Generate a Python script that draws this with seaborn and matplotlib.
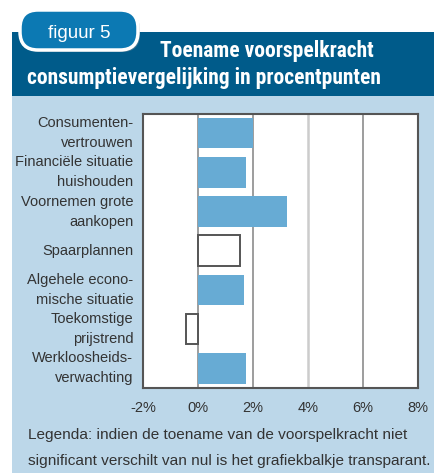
import matplotlib.pyplot as plt
import seaborn as sns
import pandas as pd
from matplotlib.patches import FancyBboxPatch, Rectangle

# data
labels = ['Consumenten-\nvertrouwen', 'Financiële situatie\nhuishouden',
          'Voornemen grote\naankopen', 'Spaarplannen',
          'Algehele econo-\nmische situatie', 'Toekomstige\nprijstrend',
          'Werkloosheids-\nverwachting']
values = [2.0, 1.73, 3.23, 1.53, 1.69, -0.45, 1.73]
significant = [True, True, True, False, True, False, True]
xticks = [-2, 0, 2, 4, 6, 8]

BAR = '#67abd4'
PANEL = '#bcd7e9'
BAND = '#005b8a'
BADGE = '#0c79b3'
TEXT = '#333333'

sns.set_theme(style='white')
plt.rcParams['font.family'] = ['Liberation Sans', 'DejaVu Sans']

W, H = 434, 473
fig = plt.figure(figsize=(W / 100, H / 100), dpi=100)

# background drawn in pixel coordinates
bg = fig.add_axes([0, 0, 1, 1], zorder=0)
bg.set_xlim(0, W)
bg.set_ylim(H, 0)
bg.axis('off')
bg.add_patch(Rectangle((12, 96), W - 12, H - 96, color=PANEL, lw=0))
bg.add_patch(Rectangle((12, 32), W - 12, 64, color=BAND, lw=0))
bg.add_patch(FancyBboxPatch((26, 16), 110, 32, boxstyle='round,pad=4,rounding_size=18',
                            fc='#7f8f9a', ec='none', alpha=0.5))
bg.add_patch(FancyBboxPatch((24, 14), 110, 32, boxstyle='round,pad=4,rounding_size=18',
                            fc=BADGE, ec='white', lw=2.5))
bg.text(79, 33, 'figuur 5', color='white', fontsize=13.5, ha='center', va='center')
title_font = ['Roboto Condensed', 'Roboto', 'DejaVu Sans']
bg.text(267, 51, 'Toename voorspelkracht', color='white', fontsize=15.5,
        fontweight='bold', family=title_font, ha='center', va='center')
bg.text(204, 78, 'consumptievergelijking in procentpunten', color='white',
        fontsize=15.5, fontweight='bold', family=title_font, ha='center', va='center')
bg.text(28, 435, 'Legenda: indien de toename van de voorspelkracht niet',
        color=TEXT, fontsize=11.1, ha='left', va='center')
bg.text(28, 461, 'significant verschilt van nul is het grafiekbalkje transparant.',
        color=TEXT, fontsize=11.1, ha='left', va='center')

ax = fig.add_axes([143 / W, 1 - 388 / H, (418 - 143) / W, (388 - 113.5) / H], zorder=1)
df = pd.DataFrame({'label': labels, 'value': values})
sns.barplot(data=df, x='value', y='label', color=BAR, saturation=1, width=0.78,
            orient='h', ax=ax)

for patch, sig in zip(ax.patches, significant):
    if sig:
        patch.set_edgecolor('none')
    else:
        patch.set_facecolor('white')
        patch.set_edgecolor('#555555')
        patch.set_linewidth(1.4)
    patch.set_zorder(3)

ax.set_facecolor('white')
ax.set_xlim(-2, 8)
ax.set_ylim(6.5, -0.5)
ax.set_xticks(xticks)
ax.set_xticklabels([f'{t}%' for t in xticks])
ax.set_xlabel('')
ax.set_ylabel('')
for t in [0, 2, 6]:
    ax.axvline(t, color='#8c8c8c', lw=1.2, zorder=1)
ax.axvline(4, color='#cccccc', lw=1.8, zorder=1)
for s in ax.spines.values():
    s.set_color('#555555')
    s.set_linewidth(1.5)
ax.tick_params(axis='both', length=0, colors=TEXT, labelsize=10.5)
ax.tick_params(axis='y', pad=7)
ax.tick_params(axis='x', pad=9)
for lab in ax.get_yticklabels():
    lab.set_multialignment('right')
    lab.set_linespacing(1.55)
    lab.set_verticalalignment('center')

fig.savefig('out.png', dpi=100)
